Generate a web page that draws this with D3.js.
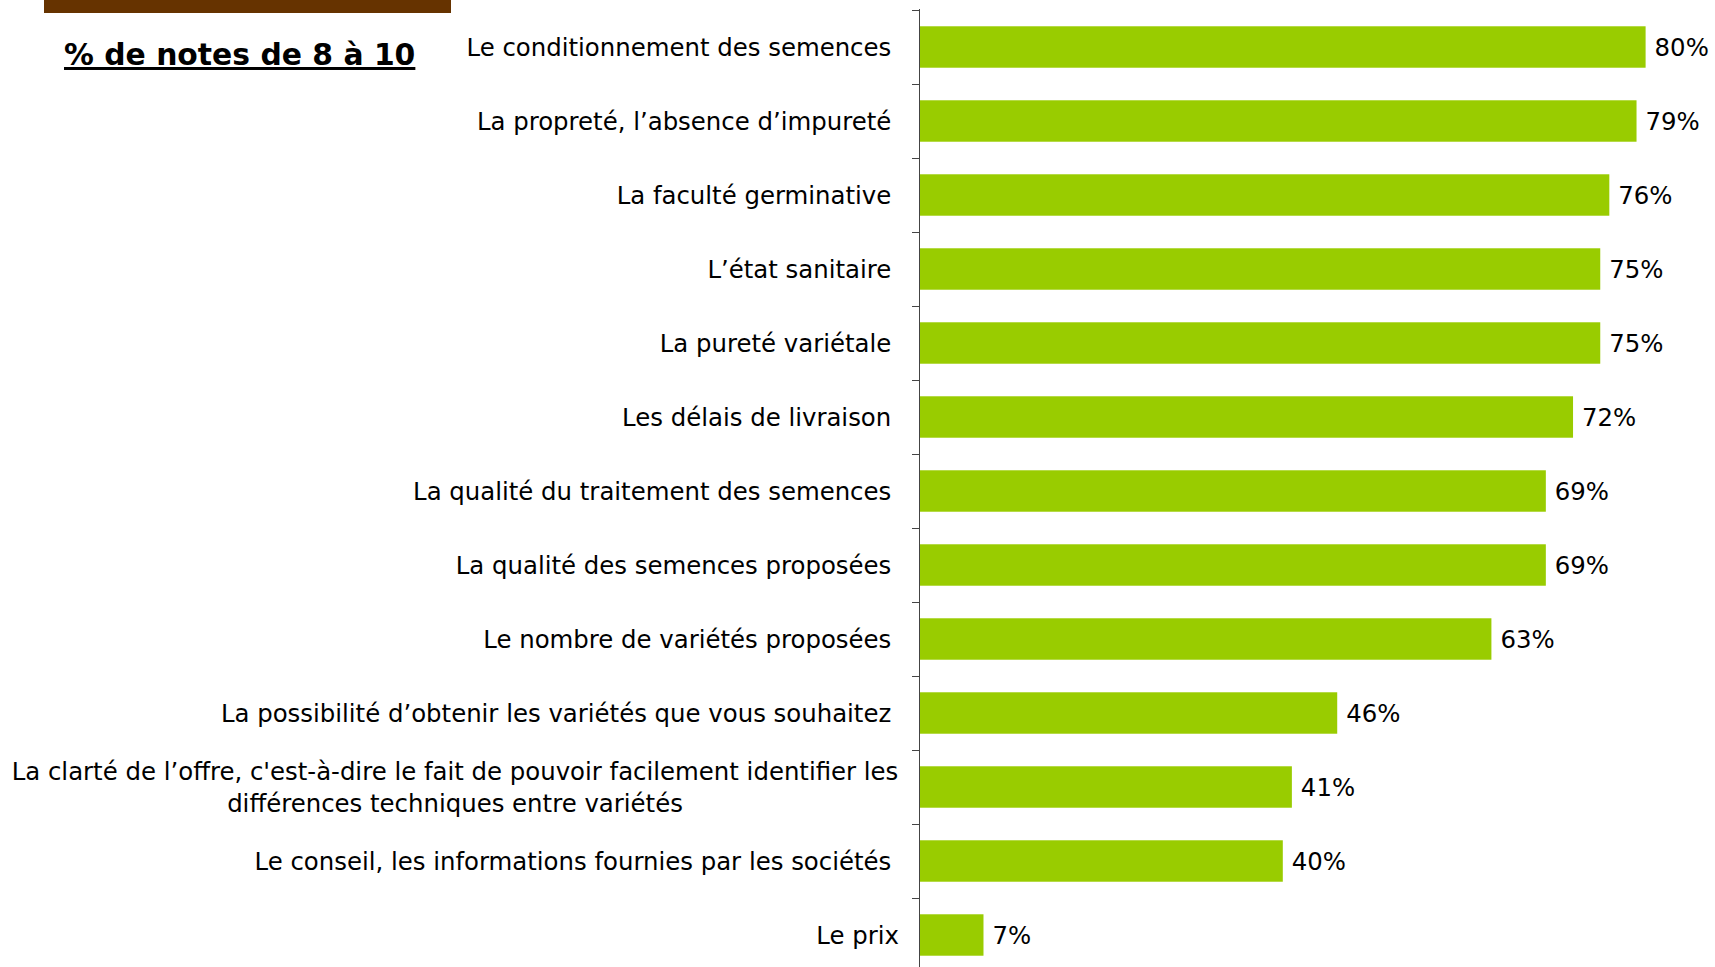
<!DOCTYPE html>
<html>
<head>
<meta charset="utf-8">
<script src="https://cdn.jsdelivr.net/npm/d3@7"></script>
<style>
  body { margin: 0; background: #fff; }
  svg text { font-family: "DejaVu Sans", Verdana, sans-serif; }
</style>
</head>
<body>
<div id="chart"></div>
<script>
// Categories, top to bottom (trailing nbsp kept as in the source labels)
var categories = [
  "Le conditionnement des semences\u00a0",
  "La propreté, l’absence d’impureté\u00a0",
  "La faculté germinative\u00a0",
  "L’état sanitaire\u00a0",
  "La pureté variétale\u00a0",
  "Les délais de livraison\u00a0",
  "La qualité du traitement des semences\u00a0",
  "La qualité des semences proposées\u00a0",
  "Le nombre de variétés proposées\u00a0",
  "La possibilité d’obtenir les variétés que vous souhaitez\u00a0",
  "La clarté de l’offre, c'est-à-dire le fait de pouvoir facilement identifier les|différences techniques entre variétés",
  "Le conseil, les informations fournies par les sociétés\u00a0",
  "Le prix"
];
var values = [80, 79, 76, 75, 75, 72, 69, 69, 63, 46, 41, 40, 7];
var title = "% de notes de 8 à 10";

var width = 1715, height = 967;
var fontSize = 24.4;

var svg = d3.select("#chart")
  .append("svg")
  .attr("width", width)
  .attr("height", height);

var x = d3.scaleLinear().domain([0, 100]).range([920, 1827]);
var y = d3.scaleBand()
  .domain(categories)
  .range([10, 972])
  .paddingInner(0.44)
  .paddingOuter(0.22);

// brown header strip
svg.append("rect")
  .attr("x", 44).attr("y", 0)
  .attr("width", 407).attr("height", 13)
  .style("fill", "#663300");

// title
svg.append("text")
  .attr("x", 64)
  .attr("y", 65)
  .attr("font-size", 29.8)
  .attr("font-weight", "bold")
  .attr("text-decoration", "underline")
  .style("fill", "#000")
  .text(title);

// bars
svg.selectAll("rect.bar")
  .data(values)
  .enter()
  .append("rect")
  .attr("class", "bar")
  .attr("x", x(0))
  .attr("y", function(d, i) { return y(categories[i]); })
  .attr("width", function(d) { return x(d) - x(0); })
  .attr("height", y.bandwidth())
  .style("fill", "#99cc00");

// value labels
svg.selectAll("text.value")
  .data(values)
  .enter()
  .append("text")
  .attr("class", "value")
  .attr("x", function(d) { return x(d) + 9; })
  .attr("y", function(d, i) { return y(categories[i]) + y.bandwidth() / 2; })
  .attr("dy", "0.38em")
  .attr("font-size", fontSize)
  .style("fill", "#000")
  .text(function(d) { return d + "%"; });

// category labels (| splits lines)
var labels = svg.selectAll("text.label")
  .data(categories)
  .enter()
  .append("text")
  .attr("class", "label")
  .attr("text-anchor", "middle")
  .attr("font-size", fontSize)
  .style("fill", "#000");

labels.each(function(d) {
  var lines = d.split("|");
  var cy = y(d) + y.bandwidth() / 2;
  var lh = 32;
  var t = d3.select(this);
  if (lines.length == 1) {
    t.attr("text-anchor", "end")
      .attr("x", 899)
      .attr("y", cy)
      .attr("dy", "0.38em")
      .text(lines[0]);
  } else {
    // multi-line labels are centred on their block
    lines.forEach(function(l, k) {
      t.append("tspan")
        .attr("x", 455)
        .attr("y", cy + (k - (lines.length - 1) / 2) * lh)
        .attr("dy", "0.38em")
        .text(l);
    });
  }
});

// axis line and ticks at band boundaries
var step = y.step();
var top0 = y(categories[0]) - y.paddingOuter() * step;
var bounds = d3.range(categories.length + 1).map(function(i) { return top0 + i * step; });

svg.append("line")
  .attr("x1", x(0) - 0.5).attr("x2", x(0) - 0.5)
  .attr("y1", top0 - 1).attr("y2", height)
  .style("stroke", "#444")
  .style("stroke-width", "1px");

svg.selectAll("line.tick")
  .data(bounds)
  .enter()
  .append("line")
  .attr("class", "tick")
  .attr("x1", x(0) - 8).attr("x2", x(0) - 0.5)
  .attr("y1", function(d) { return Math.round(d) + 0.5; })
  .attr("y2", function(d) { return Math.round(d) + 0.5; })
  .style("stroke", "#444")
  .style("stroke-width", "1px");
</script>
</body>
</html>
